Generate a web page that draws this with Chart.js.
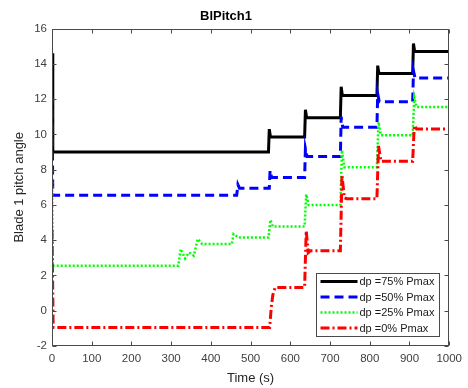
<!DOCTYPE html>
<html>
<head>
<meta charset="utf-8">
<script src="https://cdn.jsdelivr.net/npm/chart.js@4/dist/chart.umd.min.js"></script>
<style>
    body { margin: 0; background: #fff; }
</style>
</head>
<body>
<canvas id="pitch-chart" width="468" height="388"></canvas>
<script>
// Series: time (s) and blade 1 pitch angle
const labels = ['dp =75% Pmax', 'dp =50% Pmax', 'dp =25% Pmax', 'dp =0% Pmax'];

const t75 = [0, 2, 545, 547, 550, 636, 638, 641, 726, 728, 731, 818, 820, 823, 908, 910, 913, 1000];
const p75 = [14.6, 9.0, 9.0, 10.3, 9.85, 9.85, 11.4, 10.95, 10.95, 12.7, 12.2, 12.2, 13.9, 13.45, 13.45, 15.15, 14.7, 14.7];

const t50 = [0, 2, 465, 468, 472, 547, 549, 553, 636, 638, 642, 726, 728, 732, 818, 820, 824, 908, 910, 914, 1000];
const p50 = [12.2, 6.55, 6.55, 7.15, 6.95, 6.95, 7.95, 7.55, 7.55, 9.2, 8.75, 8.75, 11.0, 10.4, 10.4, 12.3, 11.85, 11.85, 13.6, 13.2, 13.2];

const t25 = [0, 2, 318, 324, 335, 345, 357, 367, 378, 453, 457, 470, 545, 550, 556, 636, 640, 646, 726, 730, 736, 818, 822, 828, 908, 912, 918, 1000];
const p25 = [8.0, 2.55, 2.55, 3.5, 2.97, 3.3, 3.12, 4.07, 3.78, 3.78, 4.35, 4.15, 4.15, 5.15, 4.78, 4.78, 6.6, 6.0, 6.0, 9.1, 8.14, 8.14, 10.7, 9.95, 9.95, 12.1, 11.55, 11.55];

const t0 = [0, 3, 548, 552, 556, 562, 636, 640, 645, 650, 726, 730, 736, 742, 818, 822, 828, 908, 912, 918, 1000];
const p0 = [4.6, -0.95, -0.95, 0.2, 0.9, 1.32, 1.32, 4.54, 3.3, 3.4, 3.4, 7.7, 6.4, 6.35, 6.35, 9.35, 8.48, 8.48, 10.5, 10.3, 10.3];

const xTicks = [0, 100, 200, 300, 400, 500, 600, 700, 800, 900, 1000];
const yTicks = [-2, 0, 2, 4, 6, 8, 10, 12, 14, 16];

const toPoints = (ts, ps) => ts.map((t, i) => ({ x: t, y: ps[i] }));

// MATLAB-like box, inward ticks on all four sides, and a legend inside the axes
const matlabAxes = {
    id: 'matlabAxes',
    afterDraw(chart) {
        const { ctx, chartArea: a, scales } = chart;
        const L = Math.round(a.left) + 0.5, R = Math.round(a.right) - 0.5;
        const T = Math.round(a.top) + 0.5, B = Math.round(a.bottom) - 0.5;
        ctx.save();
        ctx.strokeStyle = '#4a4a4a';
        ctx.lineWidth = 1;
        ctx.setLineDash([]);
        ctx.strokeRect(L, T, R - L, B - T);
        ctx.beginPath();
        xTicks.forEach(v => {
            const px = Math.round(scales.x.getPixelForValue(v)) + 0.5;
            ctx.moveTo(px, B); ctx.lineTo(px, B - 4);
            ctx.moveTo(px, T); ctx.lineTo(px, T + 4);
        });
        yTicks.forEach(v => {
            const py = Math.round(scales.y.getPixelForValue(v)) + 0.5;
            ctx.moveTo(L, py); ctx.lineTo(L + 4, py);
            ctx.moveTo(R, py); ctx.lineTo(R - 4, py);
        });
        ctx.stroke();

        // legend
        const w = 123, h = 63;
        const x0 = Math.round(a.right) - 10 - w + 0.5, y0 = Math.round(a.bottom) - 10 - h + 0.5;
        ctx.fillStyle = '#fff';
        ctx.fillRect(x0, y0, w, h);
        ctx.strokeStyle = '#4a4a4a';
        ctx.strokeRect(x0, y0, w, h);
        ctx.font = '11px "Liberation Sans", Arial, sans-serif';
        ctx.textBaseline = 'middle';
        ctx.textAlign = 'left';
        chart.data.datasets.forEach((ds, i) => {
            const cy = y0 + 8 + i * 15.5;
            ctx.strokeStyle = ds.borderColor;
            ctx.lineWidth = ds.borderWidth;
            ctx.setLineDash(ds.borderDash || []);
            ctx.beginPath();
            ctx.moveTo(x0 + 4, cy);
            ctx.lineTo(x0 + 41, cy);
            ctx.stroke();
            ctx.fillStyle = '#1a1a1a';
            ctx.fillText(ds.label, x0 + 43, cy + 0.5);
        });
        ctx.restore();
    }
};

const ctx = document.getElementById('pitch-chart').getContext('2d');

const data = {
    datasets: [
        { label: labels[0], data: toPoints(t75, p75), borderColor: '#000000', borderWidth: 3, borderDash: [], order: 4 },
        { label: labels[1], data: toPoints(t50, p50), borderColor: '#0000ff', borderWidth: 3, borderDash: [9, 5], order: 3 },
        { label: labels[2], data: toPoints(t25, p25), borderColor: '#00ff00', borderWidth: 2.5, borderDash: [2, 2], order: 2 },
        { label: labels[3], data: toPoints(t0, p0), borderColor: '#ff0000', borderWidth: 3, borderDash: [9, 3, 2, 3], order: 1 }
    ]
};

const tickFont = { family: '"Liberation Sans", Arial, sans-serif', size: 11.5 };
const labelFont = { family: '"Liberation Sans", Arial, sans-serif', size: 13 };

const config = {
    type: 'line',
    data: data,
    options: {
        responsive: false,
        animation: false,
        layout: { padding: { right: 16, left: 0, top: 0, bottom: 0 } },
        elements: {
            point: { radius: 0 },
            line: { tension: 0, fill: false }
        },
        plugins: {
            legend: { display: false },
            tooltip: { enabled: false },
            title: {
                display: true,
                text: 'BlPitch1',
                color: '#000',
                font: { family: '"Liberation Sans", Arial, sans-serif', size: 13, weight: 'bold' },
                padding: { top: 9, bottom: 4 }
            }
        },
        scales: {
            x: {
                type: 'linear',
                min: 0,
                max: 1000,
                afterBuildTicks: s => { s.ticks = xTicks.map(v => ({ value: v })); },
                afterFit: s => { s.height = 42; },
                grid: { display: false, drawTicks: false },
                border: { display: false },
                ticks: { color: '#404040', font: tickFont, padding: 6, maxRotation: 0, callback: v => String(v) },
                title: { display: true, text: 'Time (s)', color: '#262626', font: labelFont, padding: { top: 0, bottom: 2 } }
            },
            y: {
                type: 'linear',
                min: -2,
                max: 16,
                afterBuildTicks: s => { s.ticks = yTicks.map(v => ({ value: v })); },
                afterFit: s => { s.width = 52; },
                grid: { display: false, drawTicks: false },
                border: { display: false },
                ticks: { color: '#404040', font: tickFont, padding: 5, callback: v => String(v) },
                title: { display: true, text: 'Blade 1 pitch angle', color: '#262626', font: labelFont, padding: { top: 12, bottom: 0 } }
            }
        }
    },
    plugins: [matlabAxes]
};

const pitchChart = new Chart(ctx, config);
</script>
</body>
</html>
